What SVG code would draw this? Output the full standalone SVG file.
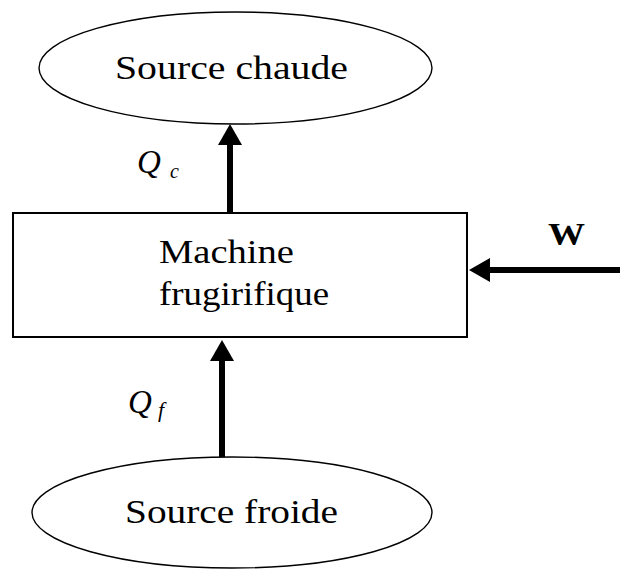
<svg xmlns="http://www.w3.org/2000/svg" width="620" height="575" viewBox="0 0 620 575">
  <style>
    .shape { fill: #ffffff; stroke: #000000; stroke-width: 1.4; }
    .box { fill: #ffffff; stroke: #000000; stroke-width: 2; }
    .label { font-family: "Liberation Serif", "DejaVu Serif", serif; font-size: 34px; fill: #000000; }
    .sym { font-family: "Liberation Serif", "DejaVu Serif", serif; font-style: italic; fill: #000000; }
    .wire { stroke: #000000; stroke-width: 6; fill: none; marker-end: url(#head); }
  </style>
  <defs>
    <marker id="head" markerUnits="userSpaceOnUse" markerWidth="21" markerHeight="24" refX="15" refY="12" orient="auto" viewBox="0 0 21 24">
      <path d="M0,0 L21,12 L0,24 Z" fill="#000000"/>
    </marker>
  </defs>

  <rect width="620" height="575" fill="#ffffff"/>

  <g id="source-chaude">
    <ellipse class="shape" cx="235.5" cy="68" rx="196.5" ry="56"/>
    <text class="label" x="115" y="79" textLength="233" lengthAdjust="spacingAndGlyphs">Source chaude</text>
  </g>

  <g id="machine">
    <rect class="box" x="13" y="213" width="454" height="124"/>
    <text class="label" x="159" y="263" textLength="135" lengthAdjust="spacingAndGlyphs">Machine</text>
    <text class="label" x="159" y="305" textLength="170" lengthAdjust="spacingAndGlyphs">frugirifique</text>
  </g>

  <g id="source-froide">
    <ellipse class="shape" cx="232" cy="512.5" rx="200" ry="55.5"/>
    <text class="label" x="125" y="523" textLength="213" lengthAdjust="spacingAndGlyphs">Source froide</text>
  </g>

  <g id="connectors">
    <line class="wire" x1="230" y1="213" x2="230" y2="130"/>
    <line class="wire" x1="222" y1="457" x2="222" y2="346"/>
    <line class="wire" x1="620" y1="270" x2="475" y2="270"/>
  </g>

  <g id="labels">
    <text class="sym" x="137" y="173" font-size="33">Q</text>
    <text class="sym" x="170" y="178" font-size="20">c</text>
    <text class="sym" x="128" y="413" font-size="33">Q</text>
    <text class="sym" x="158" y="417" font-size="22">f</text>
    <text x="548" y="245" font-family="Liberation Serif, serif" font-weight="bold" font-size="31" textLength="37" lengthAdjust="spacingAndGlyphs">W</text>
  </g>
</svg>
